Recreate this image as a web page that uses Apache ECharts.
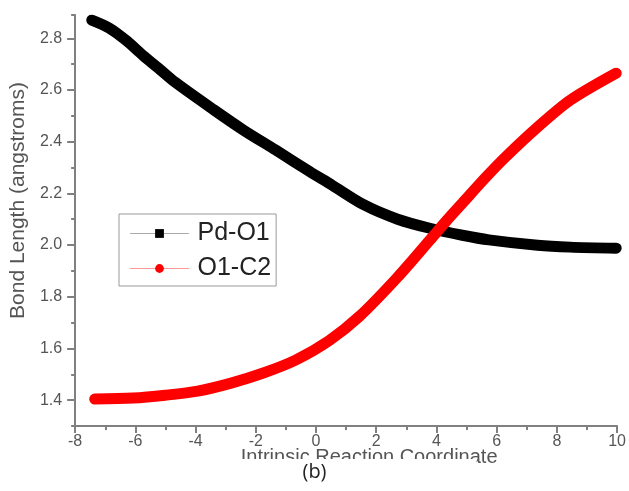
<!DOCTYPE html>
<html>
<head>
<meta charset="utf-8">
<script src="https://cdn.jsdelivr.net/npm/echarts@6/dist/echarts.min.js"></script>
<style>html,body{margin:0;padding:0;background:#fff;}#c{width:629px;height:491px;}</style>
</head>
<body>
<div id="c"></div>
<script>
// Data
const pdO1X = [-7.45, -6.86, -6.31, -5.75, -5.23, -4.68, -3.38, -2.40, -1.33, -0.22, 0.53, 1.60, 2.71, 3.78, 4.86, 5.74, 7.36, 8.44, 9.97];
const pdO1Y = [2.870, 2.839, 2.792, 2.734, 2.684, 2.630, 2.522, 2.444, 2.367, 2.285, 2.232, 2.155, 2.100, 2.065, 2.038, 2.020, 1.999, 1.992, 1.988];
const o1C2X = [-7.35, -6.08, -5.01, -3.93, -2.82, -1.75, -0.68, 0.43, 1.45, 2.71, 3.78, 4.34, 4.86, 5.64, 6.29, 7.36, 8.44, 9.97];
const o1C2Y = [1.404, 1.408, 1.419, 1.435, 1.466, 1.505, 1.555, 1.630, 1.725, 1.876, 2.019, 2.095, 2.162, 2.262, 2.340, 2.456, 2.560, 2.665];
const yTickLabels = [1.4, 1.6, 1.8, 2.0, 2.2, 2.4, 2.6, 2.8];
const seriesNames = ['Pd-O1', 'O1-C2'];

const zip = (xs, ys) => xs.map((x, i) => [x, ys[i]]);
const axisGray = '#808080';
const labelFont = {fontFamily: 'Liberation Sans', fontSize: 16, color: '#555'};

const chart = echarts.init(document.getElementById('c'));
chart.setOption({
  animation: false,
  backgroundColor: '#fff',
  title: {
    text: '(b)', left: 'center', top: 459,
    padding: [3, 150, 6, 150], backgroundColor: '#fff',
    textStyle: {fontFamily: 'Open Sans', fontSize: 20, fontWeight: 'normal', color: '#222'}
  },
  grid: {left: 68, right: 8, top: 15, bottom: 65},
  legend: {
    orient: 'vertical', left: 119, top: 214,
    padding: [7, 5, 5, 11],
    itemWidth: 58, itemHeight: 11, itemGap: 10,
    borderColor: '#999', borderWidth: 1,
    textStyle: {fontFamily: 'Liberation Sans', fontSize: 25, color: '#222', lineHeight: 24, padding: [0, 0, 0, 4]},
    data: [
      {name: seriesNames[0], lineStyle: {width: 1, color: '#aaa'}, itemStyle: {color: '#000'}},
      {name: seriesNames[1], lineStyle: {width: 1, color: '#ff9999'}, itemStyle: {color: '#ff0000'}}
    ]
  },
  xAxis: {
    type: 'value', min: -8, max: 10, interval: 2,
    name: 'Intrinsic Reaction Coordinate', nameLocation: 'middle', nameGap: 21, nameMoveOverlap: false,
    nameTextStyle: {fontFamily: 'Liberation Sans', fontSize: 20, color: '#555', padding: [0, 0, 0, 46]},
    axisLine: {show: true, onZero: false, lineStyle: {color: axisGray, width: 2}},
    axisTick: {show: true, inside: false, length: 7, lineStyle: {color: axisGray, width: 2}},
    minorTick: {show: true, splitNumber: 2, length: 4, lineStyle: {color: axisGray, width: 2}},
    axisLabel: Object.assign({margin: 8}, labelFont),
    splitLine: {show: false}
  },
  yAxis: [
    {
      type: 'value', min: 1.3, max: 2.89,
      name: 'Bond Length (angstroms)', nameLocation: 'middle', nameGap: 42, nameRotate: 90,
      nameTextStyle: {fontFamily: 'Liberation Sans', fontSize: 21, color: '#555', padding: [0, 0, 0, 40]},
      axisLine: {show: true, onZero: false, lineStyle: {color: axisGray, width: 2}},
      axisTick: {show: true, length: 8, customValues: yTickLabels, lineStyle: {color: axisGray, width: 2}},
      axisLabel: Object.assign({margin: 13, customValues: yTickLabels, formatter: v => v.toFixed(1)}, labelFont),
      splitLine: {show: false}
    },
    {
      type: 'value', min: 1.3, max: 2.89, interval: 0.1, position: 'left',
      axisLine: {show: false, onZero: false},
      axisTick: {show: true, length: 4, lineStyle: {color: axisGray, width: 2}},
      axisLabel: {show: false},
      splitLine: {show: false}
    }
  ],
  series: [
    {
      name: seriesNames[0], type: 'line', yAxisIndex: 0,
      data: zip(pdO1X, pdO1Y), smooth: 0.3,
      symbol: 'rect', showSymbol: false,
      lineStyle: {color: '#000', width: 11, cap: 'round', join: 'round'},
      itemStyle: {color: '#000'}
    },
    {
      name: seriesNames[1], type: 'line', yAxisIndex: 0,
      data: zip(o1C2X, o1C2Y), smooth: 0.3,
      symbol: 'circle', showSymbol: false,
      lineStyle: {color: '#ff0000', width: 11, cap: 'round', join: 'round'},
      itemStyle: {color: '#ff0000'}
    }
  ]
});
</script>
</body>
</html>
